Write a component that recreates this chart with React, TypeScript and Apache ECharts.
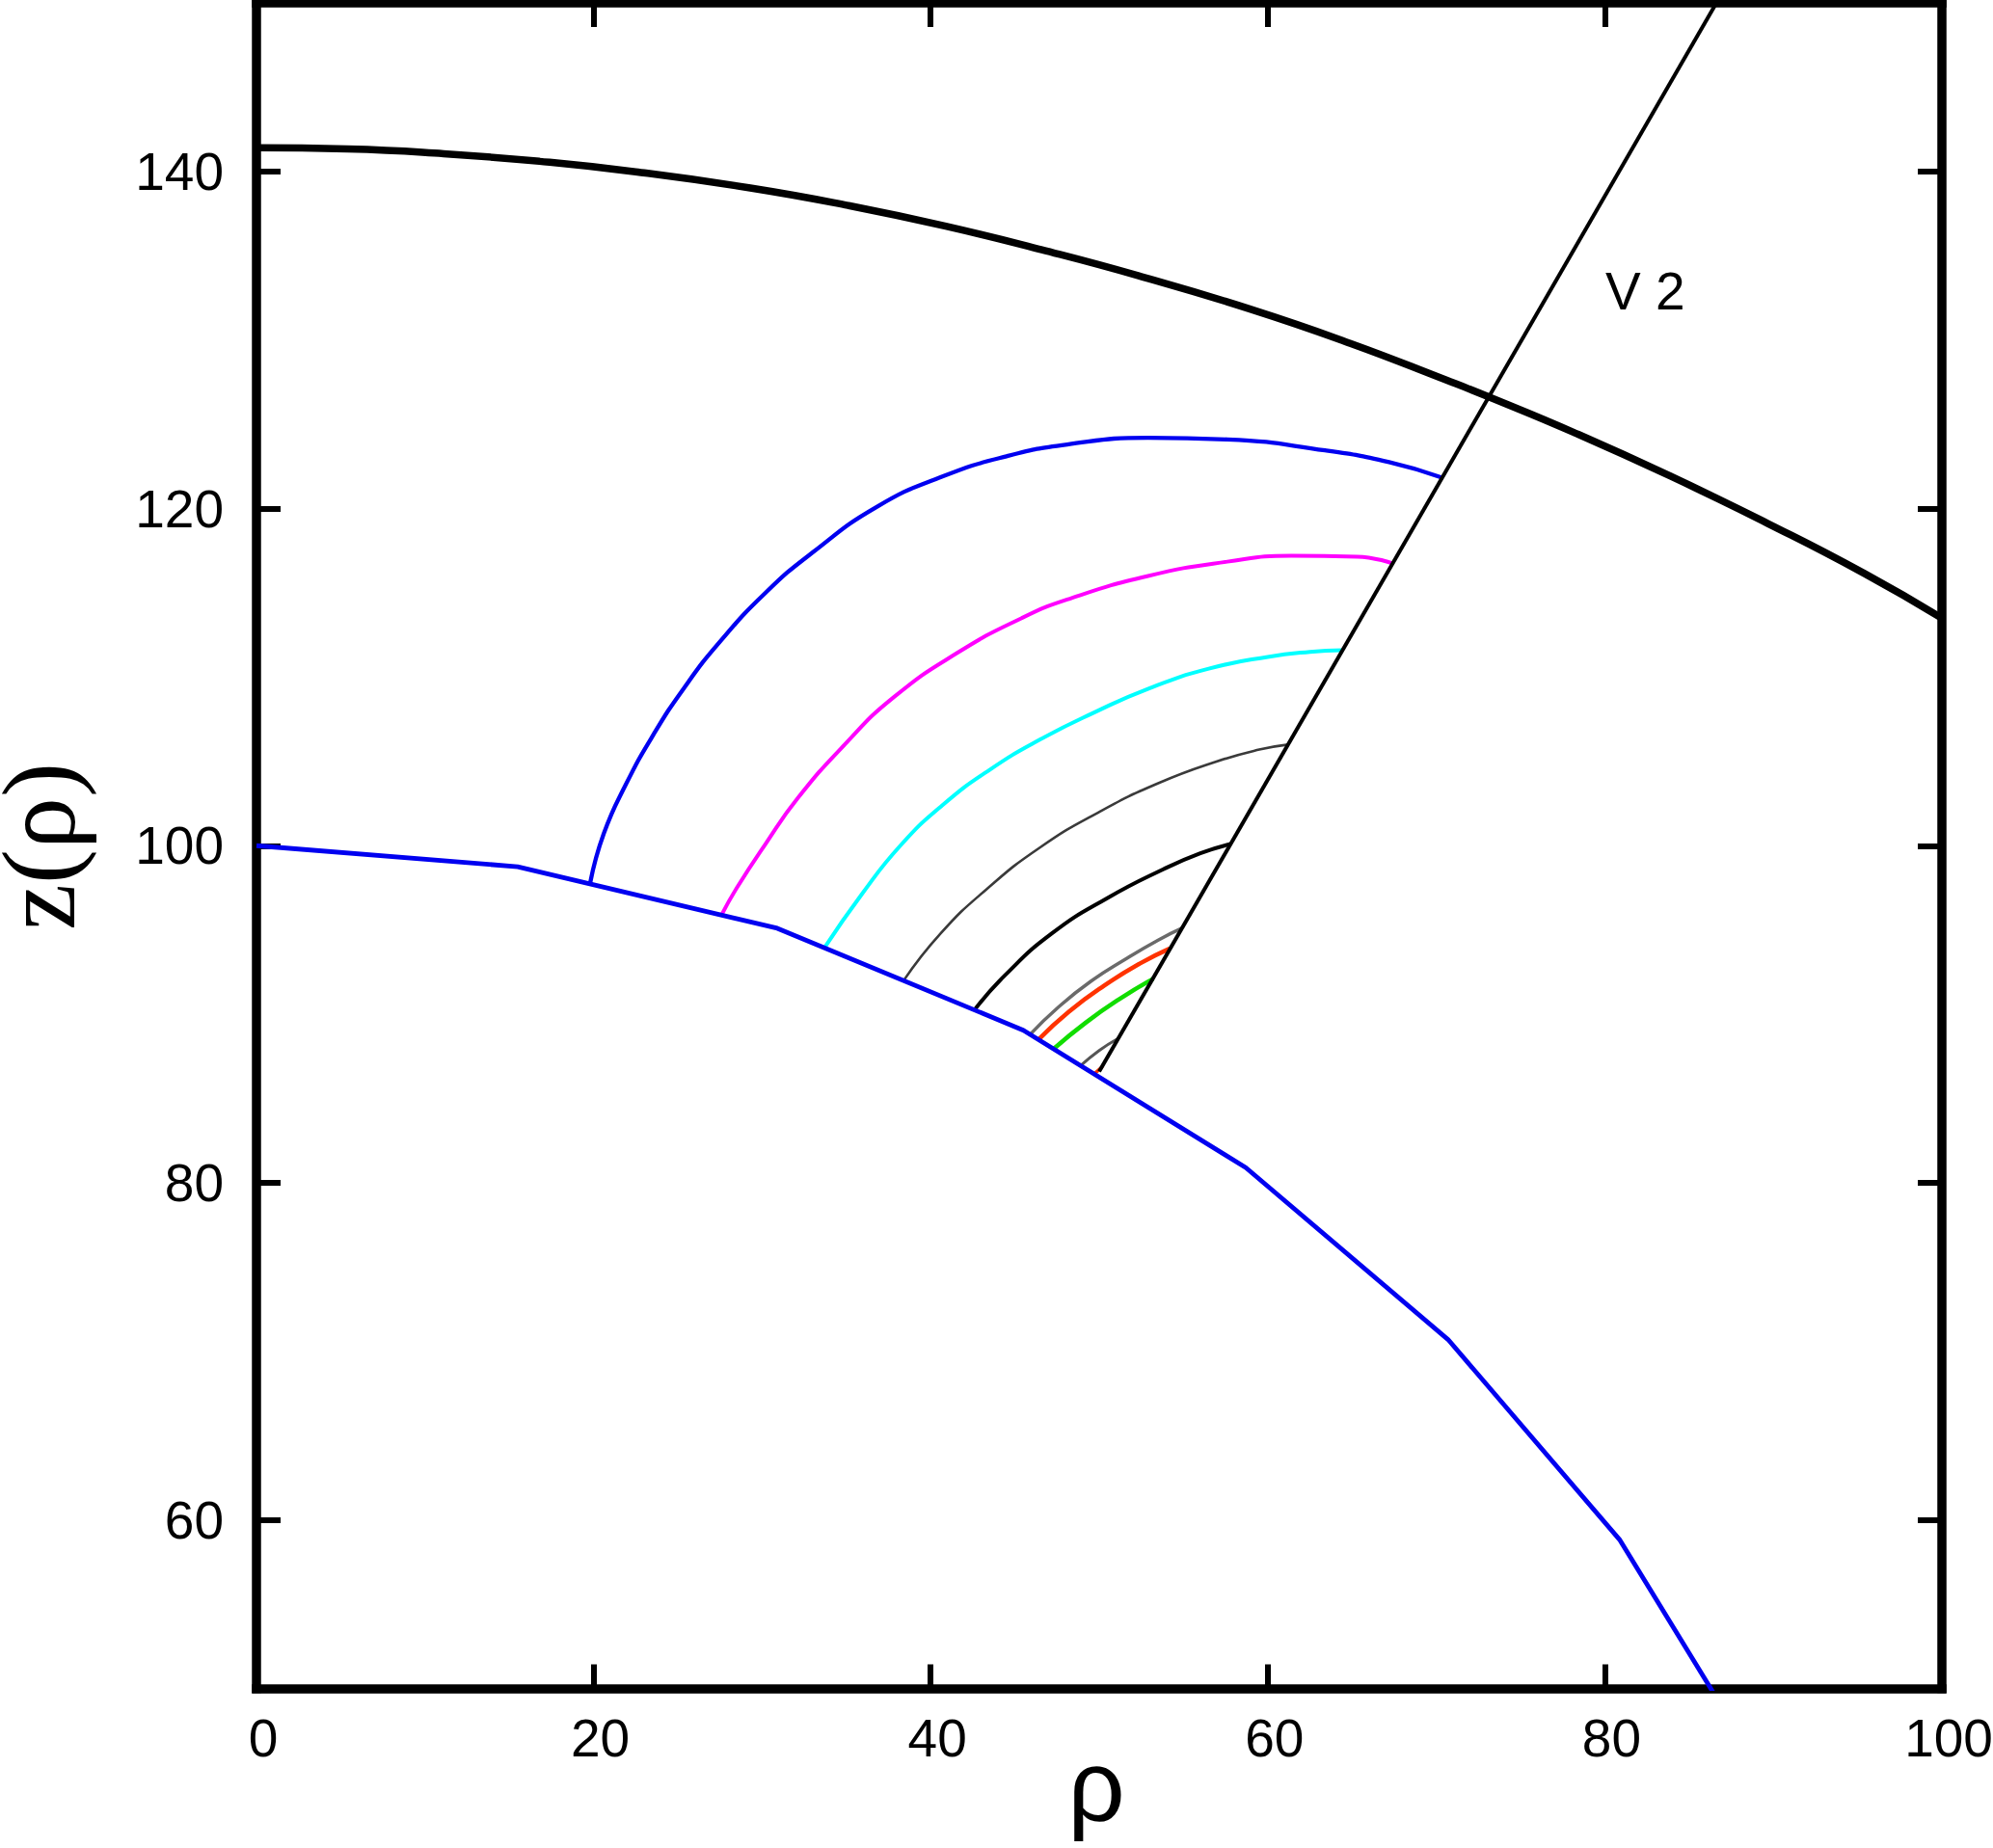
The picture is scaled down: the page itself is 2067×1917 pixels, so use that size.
import { useEffect, useRef } from "react";
import * as echarts from "echarts";

// Axis ticks
const xTicks = [0, 20, 40, 60, 80, 100];
const yTicks = [60, 80, 100, 120, 140];

// Blue lower boundary (polygonal)
const boundary = [[0, 100], [15.5, 98.75], [30.9, 95.1], [45.5, 89.05], [58.7, 80.9], [70.7, 70.7], [80.9, 58.8], [89.1, 45.4]];

// Thick black outer curve
const outerCurve = [[0, 141.4], [5.4, 141.33], [11.1, 141.05], [16.8, 140.6], [22.5, 139.98], [29.3, 139.02], [35.1, 137.98], [40.9, 136.75], [46.6, 135.35], [52.3, 133.82], [59.0, 131.82], [64.9, 129.8], [70.6, 127.62], [73.3, 126.55], [78.2, 124.5], [83.9, 121.92], [89.7, 119.1], [95.4, 116.15], [100, 113.5]];

// V2 straight line and its label position
const v2Line = [[50, 86.6], [87.2, 151]];
const v2LabelPos = [82.4, 132.9];
const v2Text = "V 2";

// Axis titles
const xTitle = "ρ";
const yTitle = "z(ρ)";

// Arcs between boundary and V2 line
const blueArc = [[19.8, 97.8], [20.6, 100.7], [21.9, 103.6], [23.5, 106.5], [25.4, 109.4], [27.5, 112.1], [30.2, 115.0], [33.0, 117.4], [36.8, 120.1], [40.7, 121.9], [44.5, 123.1], [48.1, 123.8], [52.9, 124.2], [57.6, 124.1], [63.4, 123.45], [67.2, 122.75], [70.3, 121.85]];
const magentaArc = [[27.6, 95.9], [28.5, 97.5], [30.2, 100.1], [32.1, 102.8], [34.9, 106.0], [37.8, 108.8], [41.6, 111.45], [45.4, 113.5], [48.1, 114.6], [52.9, 116.0], [57.6, 116.85], [61.4, 117.2], [65.3, 117.15], [67.4, 116.75]];
const cyanArc = [[33.7, 93.95], [35.9, 97.1], [38.2, 100.0], [40.7, 102.4], [43.5, 104.5], [46.5, 106.3], [49.7, 107.9], [53.0, 109.35], [56.5, 110.5], [60.0, 111.2], [62.5, 111.5], [64.4, 111.6]];
const grayArc = [[38.4, 92.0], [40.6, 94.8], [43.3, 97.4], [46.5, 99.9], [50.0, 102.0], [53.5, 103.7], [57.0, 105.0], [59.5, 105.7], [61.2, 106.0]];
const blackArc = [[42.6, 90.25], [44.4, 92.3], [47.2, 94.8], [50.5, 96.9], [53.8, 98.6], [56.0, 99.55], [57.8, 100.1]];
const graySmallArc = [[45.9, 88.8], [47.5, 90.35], [49.5, 91.95], [51.7, 93.35], [53.5, 94.4], [54.9, 95.1]];
const redArc = [[46.4, 88.5], [48.2, 90.15], [50.3, 91.7], [52.4, 93.0], [54.2, 93.9]];
const greenArc = [[47.3, 87.95], [49.2, 89.5], [51.2, 90.9], [53.2, 92.1]];
const grayTinyArc = [[48.9, 86.95], [50.0, 87.85], [51.1, 88.55]];
const redTinyArc = [[49.7, 86.45], [50.2, 86.9]];

const SANS = "Liberation Sans, Arial, sans-serif";
const SERIF = "Liberation Serif, Times New Roman, serif";
const frameLine = { color: "#000", width: 9.5, cap: "square" as const };
const tickStyle = { show: true, inside: true, length: 25, lineStyle: { color: "#000", width: 6 } };
const labelFont = { fontSize: 55, color: "#000", fontFamily: SANS };

function lineSeries(data: number[][], color: string, width: number, smooth: number | boolean, z = 2) {
  return {
    type: "line",
    data,
    showSymbol: false,
    smooth,
    z,
    lineStyle: { color, width },
    silent: true,
  };
}

export default function App() {
  const ref = useRef<HTMLDivElement>(null);
  useEffect(() => {
    const chart = echarts.init(ref.current!, null, { renderer: "svg" });
    const option: any = {
      animation: false,
      backgroundColor: "#fff",
      grid: { left: 266, right: 53, top: 3, bottom: 165.5, containLabel: false, outerBoundsMode: "none" },
      xAxis: [
        {
          type: "value",
          position: "bottom",
          min: 0,
          max: 100,
          interval: 20,
          axisLine: { show: true, onZero: false, lineStyle: frameLine },
          axisTick: { ...tickStyle, customValues: xTicks },
          axisLabel: { show: true, margin: 24, padding: [0, 0, 0, 14], customValues: xTicks, ...labelFont },
          splitLine: { show: false },
        },
        {
          type: "value",
          position: "top",
          min: 0,
          max: 100,
          interval: 20,
          axisLine: { show: true, onZero: false, lineStyle: frameLine },
          axisTick: { ...tickStyle, customValues: xTicks },
          axisLabel: { show: false },
          splitLine: { show: false },
        },
      ],
      yAxis: [
        {
          type: "value",
          position: "left",
          min: 50,
          max: 150,
          axisLine: { show: true, onZero: false, lineStyle: frameLine },
          axisTick: { ...tickStyle, customValues: yTicks },
          axisLabel: { show: true, margin: 34, customValues: yTicks, ...labelFont },
          splitLine: { show: false },
        },
        {
          type: "value",
          position: "right",
          min: 50,
          max: 150,
          axisLine: { show: true, onZero: false, lineStyle: frameLine },
          axisTick: { ...tickStyle, customValues: yTicks },
          axisLabel: { show: false },
          splitLine: { show: false },
        },
      ],
      series: [
        lineSeries(boundary, "#0000f0", 4.8, false, 3),
        lineSeries(blueArc, "#0000f0", 4.3, 0.5),
        lineSeries(magentaArc, "#ff00ff", 4, 0.5),
        lineSeries(cyanArc, "#00ffff", 4, 0.5),
        lineSeries(grayArc, "#3a3a3a", 2.6, 0.5),
        lineSeries(blackArc, "#000000", 4, 0.5),
        lineSeries(graySmallArc, "#6a6a6a", 3.5, 0.5),
        lineSeries(redArc, "#ff3300", 4.5, 0.5),
        lineSeries(greenArc, "#11dd00", 4.5, 0.5),
        lineSeries(grayTinyArc, "#555555", 3, 0.5),
        lineSeries(redTinyArc, "#ff3300", 3.5, false),
        lineSeries(v2Line, "#000000", 4, false, 4),
        lineSeries(outerCurve, "#000000", 7.5, 0.5, 4),
      ],
    };
    chart.setOption(option);

    const [lx, ly] = chart.convertToPixel({ gridIndex: 0 }, v2LabelPos) as number[];
    chart.setOption({
      graphic: [
        {
          type: "text",
          x: lx,
          y: ly,
          z: 10,
          style: { text: v2Text, fontSize: 55, fontFamily: SANS, fill: "#000", align: "center", verticalAlign: "middle" },
        },
        {
          type: "text",
          x: 1137,
          y: 1852,
          z: 10,
          style: { text: xTitle, fontSize: 104, lineHeight: 100, fontFamily: SANS, fill: "#000", align: "center", verticalAlign: "middle" },
        },
        {
          type: "text",
          x: 40,
          y: 878,
          rotation: Math.PI / 2,
          z: 10,
          style: { text: yTitle, fontSize: 108, lineHeight: 78, fontFamily: SERIF, fill: "#000", align: "center", verticalAlign: "middle" },
        },
      ],
    });
    return () => chart.dispose();
  }, []);
  return (
    <div
      ref={ref}
      style={{ position: "fixed", left: 0, top: 0, width: "2067px", height: "1917px", background: "#fff" }}
    />
  );
}
